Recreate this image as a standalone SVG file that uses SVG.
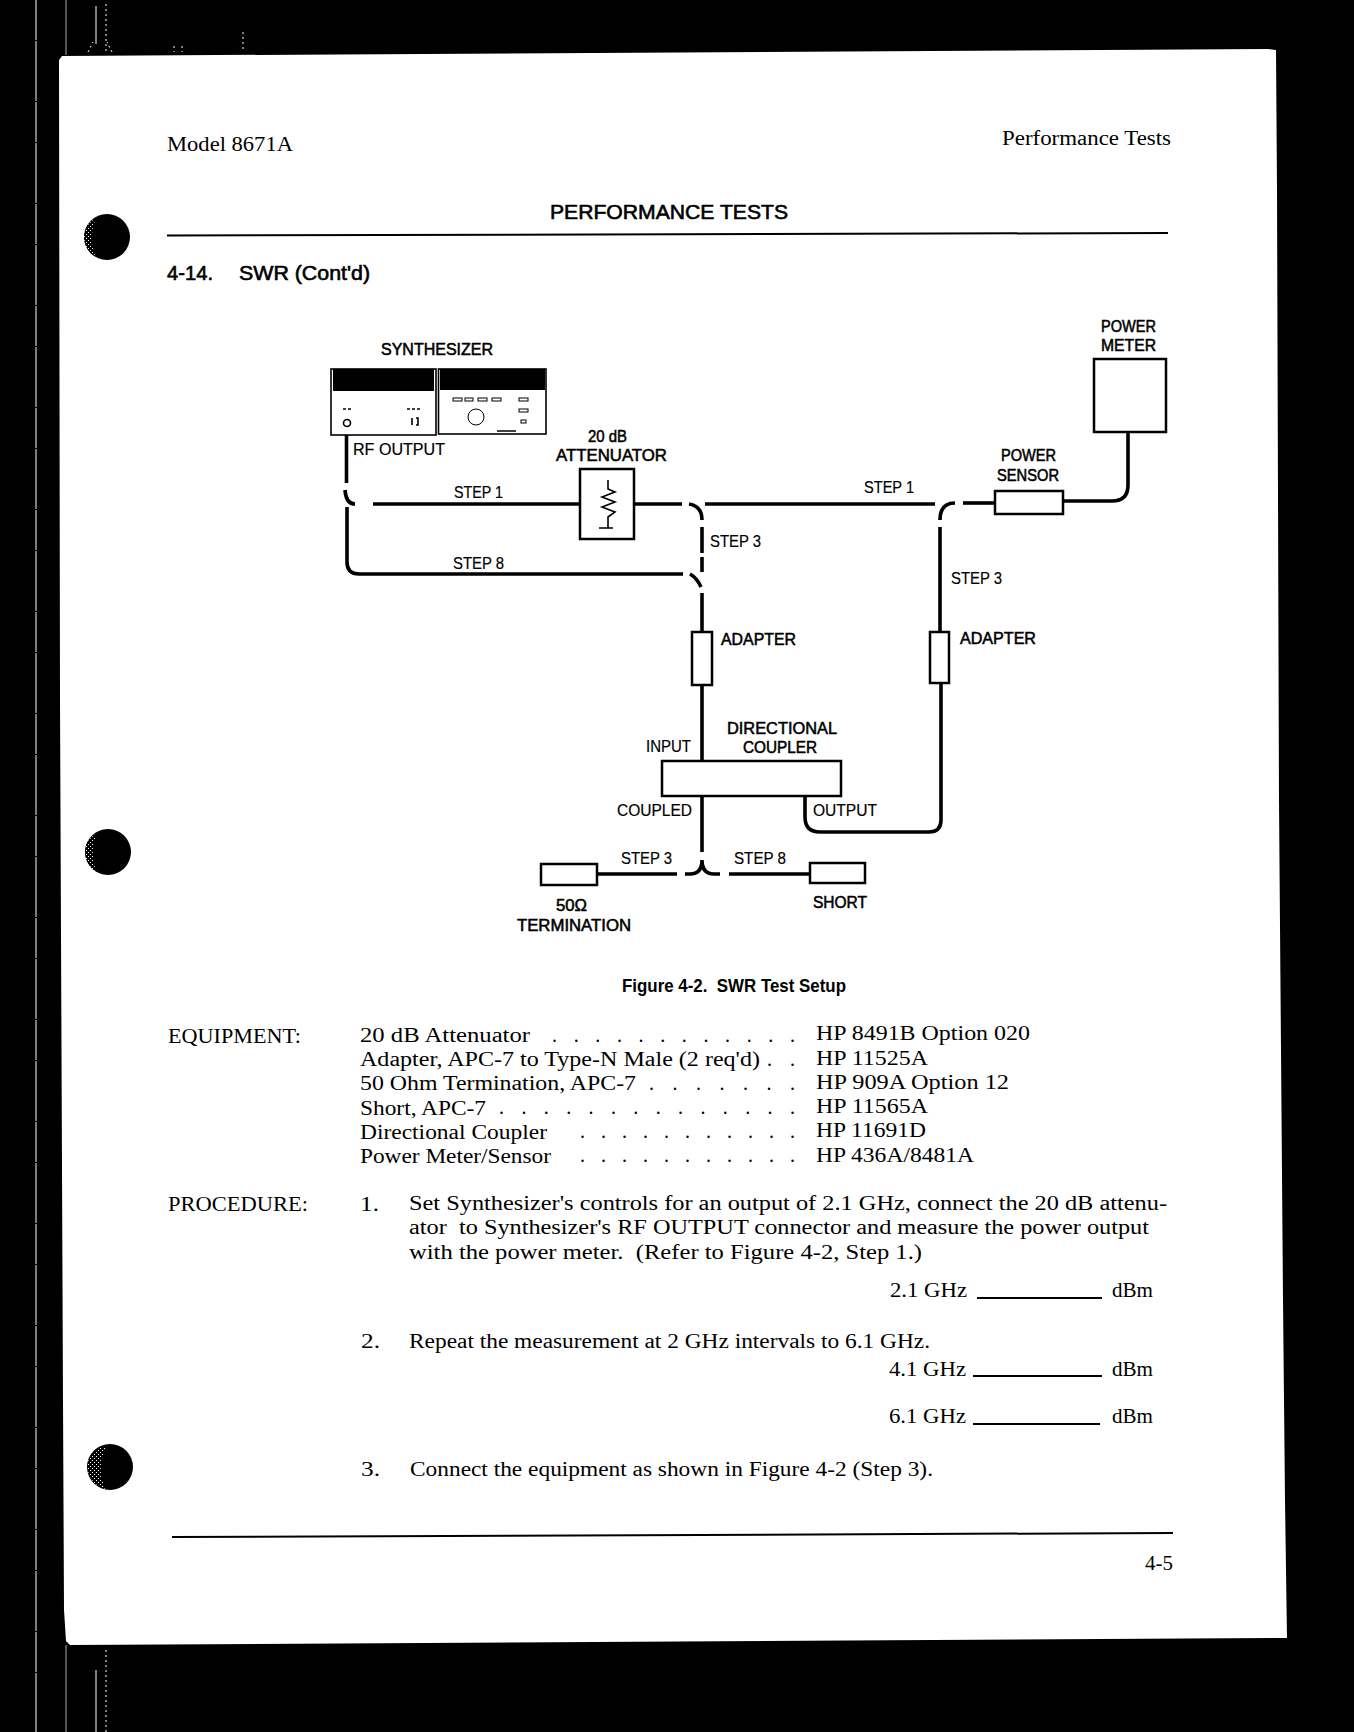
<svg xmlns="http://www.w3.org/2000/svg" width="1354" height="1732" viewBox="0 0 1354 1732">
<style>
text{white-space:pre}
.s{font-family:"Liberation Serif","Times New Roman",serif;font-size:20px;fill:#000}
.l{font-family:"Liberation Sans",Arial,sans-serif;font-size:16.5px;fill:#000;stroke:#000;stroke-width:.55}
.n{font-family:"Liberation Sans",Arial,sans-serif;font-size:16.5px;fill:#000;stroke:#000;stroke-width:.2}
.h{font-family:"Liberation Sans",Arial,sans-serif;font-size:20px;fill:#000;stroke:#000;stroke-width:.6}
.cap{font-family:"Liberation Sans",Arial,sans-serif;font-size:19px;font-weight:700;fill:#000}
.box{fill:#fff;stroke:#000;stroke-width:2.5}
.panel{fill:#fff;stroke:#000;stroke-width:1.6}
.c{fill:none;stroke:#000;stroke-width:3.6}
.thin{fill:none;stroke:#000;stroke-width:1.6}
.rule{fill:none;stroke:#000;stroke-width:2}
.art{fill:none;stroke:#fff;stroke-width:1}
.blob{fill:#000}
</style>
<defs>
<pattern id="dither" width="4" height="4" patternUnits="userSpaceOnUse"><rect width="4" height="4" fill="#000"/><rect width="1" height="1" fill="#fff"/><rect x="2" y="2" width="1" height="1" fill="#fff"/></pattern>
</defs>
<rect id="scan-background" width="1354" height="1732" fill="#000"/>
<g id="scan-artefacts">
<path class="art" stroke-dasharray="40 1 60 1" d="M36 0V1732"/>
<path d="M66 0V55M66 1645V1732" fill="none" stroke="#aaa" stroke-width="1"/>
<path class="art" d="M96 6V44M96 1670V1732"/>
<path class="art" stroke-dasharray="2 3" d="M88 52L93 42M112 52L107 42M106 4V52M106 1650V1732M243 32V52M174 46V52M182 46V52"/>
</g>
<path id="page" fill="#fff" d="M62 56L1268 49L1276 50L1277 190L1279 800L1283 1300L1285 1500L1287 1638L70 1645L66 1641L64 1610L63 1400L60 700L59 60Z"/>
<g id="punch-holes">
<g><circle class="blob" cx="107" cy="237" r="23"/><path fill="url(#dither)" d="M84 237A23 23 0 0 0 96 257C91 248 90 232 96 218A23 23 0 0 0 84 237Z"/></g>
<g><circle class="blob" cx="108" cy="852" r="23"/><path fill="url(#dither)" d="M85 852A23 23 0 0 0 97 872C92 863 91 847 97 833A23 23 0 0 0 85 852Z"/></g>
<g><circle class="blob" cx="110" cy="1467" r="23"/><path fill="url(#dither)" d="M88 1462A23 23 0 0 0 106 1489C103 1482 96 1472 106 1446C95 1448 90 1454 88 1462Z"/></g>
</g>
<g id="page-header">
<text class="s" x="167" y="151" textLength="126" lengthAdjust="spacingAndGlyphs">Model 8671A</text>
<text class="s" x="1002" y="145" textLength="169" lengthAdjust="spacingAndGlyphs">Performance Tests</text>
<text class="h" x="550" y="219" textLength="238" lengthAdjust="spacingAndGlyphs">PERFORMANCE TESTS</text>
<path class="rule" stroke-width="2.5" d="M167 235.500L1168 233"/>
<text class="h" x="167" y="280" textLength="46" lengthAdjust="spacingAndGlyphs">4-14.</text>
<text class="h" x="239" y="280" textLength="131" lengthAdjust="spacingAndGlyphs">SWR (Cont'd)</text>
</g>
<g id="connectors">
<path class="c" d="M346.500 426V483"/>
<path class="c" d="M345 490Q346 504 355 504"/>
<path class="c" d="M373 504H579"/>
<path class="c" d="M635 504H682"/>
<path class="c" d="M689 504Q702 506 702 520"/>
<path class="c" d="M702 527V553M702 557V572"/>
<path class="c" d="M347 507V562Q347 574 359 574H683"/>
<path class="c" d="M690 574Q697 578 701 587"/>
<path class="c" d="M702 593V632"/>
<path class="c" d="M705 504H935"/>
<path class="c" d="M940 520Q940 503 955 503"/>
<path class="c" d="M963 503H995"/>
<path class="c" d="M1063 501H1112Q1128 501 1128 485V432"/>
<path class="c" d="M940 527V632"/>
<path class="c" d="M702 685V761"/>
<path class="c" d="M941 683V820Q941 832 929 832H820Q805 832 805 817V796"/>
<path class="c" d="M702 796V852"/>
<path class="c" d="M702 860Q702 874 690 874H685M702 860Q702 874 714 874H720"/>
<path class="c" d="M597 874H677"/>
<path class="c" d="M729 874H810"/>
</g>
<g id="synthesizer">
<text class="l" x="381" y="355" textLength="112" lengthAdjust="spacingAndGlyphs">SYNTHESIZER</text>
<rect class="panel" x="331" y="369" width="105" height="66"/>
<rect class="panel" x="438.500" y="369" width="107.500" height="65"/>
<rect x="333" y="369" width="101" height="22" fill="#000"/>
<rect x="440" y="369" width="105" height="21" fill="#000"/>
<circle class="thin" cx="347" cy="423" r="3.500"/>
<circle cx="476" cy="417" r="8" fill="none" stroke="#000" stroke-width="1"/>
<path class="thin" stroke-width="1.200" stroke-dasharray="3 2" d="M343 409H352M407 409H420"/>
<path class="thin" stroke-width="1" d="M412 418V425M416 418H418V425H416"/>
<g fill="none" stroke="#000" stroke-width="1"><rect x="453" y="398" width="9" height="3"/><rect x="465" y="398" width="8" height="3"/><rect x="478" y="398" width="9" height="3"/><rect x="492" y="398" width="9" height="3"/><rect x="519" y="398" width="9" height="3"/><rect x="519" y="409" width="9" height="3"/><rect x="521" y="420" width="5" height="3"/></g>
<path d="M497 431H516" stroke="#000" stroke-width="1.500"/>
<text class="n" x="353" y="455" textLength="92" lengthAdjust="spacingAndGlyphs">RF OUTPUT</text>
</g>
<g id="attenuator">
<text class="l" x="588" y="442" textLength="39" lengthAdjust="spacingAndGlyphs">20 dB</text>
<text class="l" x="556" y="461" textLength="111" lengthAdjust="spacingAndGlyphs">ATTENUATOR</text>
<rect class="box" x="580" y="469" width="54" height="70"/>
<path class="thin" stroke-width="2" d="M608 480V489L615 492L602 497L615 502L602 507L615 512L608 517V528M599 528H613"/>
</g>
<g id="power-meter">
<text class="l" x="1101" y="332" textLength="55" lengthAdjust="spacingAndGlyphs">POWER</text>
<text class="l" x="1101" y="351" textLength="55" lengthAdjust="spacingAndGlyphs">METER</text>
<rect class="box" x="1094" y="359" width="72" height="73"/>
</g>
<g id="power-sensor">
<text class="l" x="1001" y="461" textLength="55" lengthAdjust="spacingAndGlyphs">POWER</text>
<text class="l" x="997" y="481" textLength="62" lengthAdjust="spacingAndGlyphs">SENSOR</text>
<rect class="box" x="995" y="491" width="68" height="23"/>
</g>
<g id="adapter-left">
<rect class="box" x="692" y="632" width="20" height="53"/>
<text class="l" x="721" y="645" textLength="75" lengthAdjust="spacingAndGlyphs">ADAPTER</text>
</g>
<g id="adapter-right">
<rect class="box" stroke-width="2" x="930" y="632" width="19" height="51"/>
<text class="l" x="960" y="644" textLength="76" lengthAdjust="spacingAndGlyphs">ADAPTER</text>
</g>
<g id="directional-coupler">
<text class="l" x="727" y="734" textLength="110" lengthAdjust="spacingAndGlyphs">DIRECTIONAL</text>
<text class="l" x="743" y="753" textLength="74" lengthAdjust="spacingAndGlyphs">COUPLER</text>
<rect class="box" x="662" y="761" width="179" height="35"/>
<text class="n" x="646" y="752" textLength="45" lengthAdjust="spacingAndGlyphs">INPUT</text>
<text class="n" x="617" y="816" textLength="75" lengthAdjust="spacingAndGlyphs">COUPLED</text>
<text class="n" x="813" y="816" textLength="64" lengthAdjust="spacingAndGlyphs">OUTPUT</text>
</g>
<g id="termination">
<rect class="box" x="541" y="864" width="56" height="21"/>
<text class="l" x="556" y="911" textLength="31" lengthAdjust="spacingAndGlyphs">50Ω</text>
<text class="l" x="517" y="931" textLength="114" lengthAdjust="spacingAndGlyphs">TERMINATION</text>
</g>
<g id="short">
<rect class="box" x="810" y="863" width="55" height="20"/>
<text class="l" x="813" y="908" textLength="54" lengthAdjust="spacingAndGlyphs">SHORT</text>
</g>
<g id="connector-labels">
<text class="n" x="454" y="498" textLength="49" lengthAdjust="spacingAndGlyphs">STEP 1</text>
<text class="n" x="453" y="569" textLength="51" lengthAdjust="spacingAndGlyphs">STEP 8</text>
<text class="n" x="710" y="547" textLength="51" lengthAdjust="spacingAndGlyphs">STEP 3</text>
<text class="n" x="864" y="493" textLength="50" lengthAdjust="spacingAndGlyphs">STEP 1</text>
<text class="n" x="951" y="584" textLength="51" lengthAdjust="spacingAndGlyphs">STEP 3</text>
<text class="n" x="621" y="864" textLength="51" lengthAdjust="spacingAndGlyphs">STEP 3</text>
<text class="n" x="734" y="864" textLength="52" lengthAdjust="spacingAndGlyphs">STEP 8</text>
</g>
<text id="caption" class="cap" x="622" y="992" textLength="224" lengthAdjust="spacingAndGlyphs">Figure 4-2.  SWR Test Setup</text>
<g id="equipment">
<text class="s" x="168" y="1043" textLength="133" lengthAdjust="spacingAndGlyphs">EQUIPMENT:</text>
<text class="s" x="360" y="1042" textLength="170" lengthAdjust="spacingAndGlyphs">20 dB Attenuator</text>
<text class="s" x="552" y="1042" textLength="243" lengthAdjust="spacing">. . . . . . . . . . . .</text>
<text class="s" x="816" y="1040" textLength="214" lengthAdjust="spacingAndGlyphs">HP 8491B Option 020</text>
<text class="s" x="360" y="1066" textLength="400" lengthAdjust="spacingAndGlyphs">Adapter, APC-7 to Type-N Male (2 req'd)</text>
<text class="s" x="767" y="1066" textLength="28" lengthAdjust="spacing">. .</text>
<text class="s" x="816" y="1065" textLength="112" lengthAdjust="spacingAndGlyphs">HP 11525A</text>
<text class="s" x="360" y="1090" textLength="276" lengthAdjust="spacingAndGlyphs">50 Ohm Termination, APC-7</text>
<text class="s" x="649" y="1090" textLength="146" lengthAdjust="spacing">. . . . . . .</text>
<text class="s" x="816" y="1089" textLength="193" lengthAdjust="spacingAndGlyphs">HP 909A Option 12</text>
<text class="s" x="360" y="1115" textLength="126" lengthAdjust="spacingAndGlyphs">Short, APC-7</text>
<text class="s" x="499" y="1114" textLength="296" lengthAdjust="spacing">. . . . . . . . . . . . . .</text>
<text class="s" x="816" y="1113" textLength="112" lengthAdjust="spacingAndGlyphs">HP 11565A</text>
<text class="s" x="360" y="1139" textLength="187" lengthAdjust="spacingAndGlyphs">Directional Coupler</text>
<text class="s" x="580" y="1138" textLength="215" lengthAdjust="spacing">. . . . . . . . . . .</text>
<text class="s" x="816" y="1137" textLength="110" lengthAdjust="spacingAndGlyphs">HP 11691D</text>
<text class="s" x="360" y="1163" textLength="191" lengthAdjust="spacingAndGlyphs">Power Meter/Sensor</text>
<text class="s" x="580" y="1162" textLength="215" lengthAdjust="spacing">. . . . . . . . . . .</text>
<text class="s" x="816" y="1162" textLength="158" lengthAdjust="spacingAndGlyphs">HP 436A/8481A</text>
</g>
<g id="procedure">
<text class="s" x="168" y="1211" textLength="140" lengthAdjust="spacingAndGlyphs">PROCEDURE:</text>
<text class="s" x="360" y="1211" textLength="19" lengthAdjust="spacingAndGlyphs">1.</text>
<text class="s" x="409" y="1210" textLength="758" lengthAdjust="spacingAndGlyphs">Set Synthesizer's controls for an output of 2.1 GHz, connect the 20 dB attenu-</text>
<text class="s" x="409" y="1234" textLength="740" lengthAdjust="spacingAndGlyphs">ator  to Synthesizer's RF OUTPUT connector and measure the power output</text>
<text class="s" x="409" y="1259" textLength="513" lengthAdjust="spacingAndGlyphs">with the power meter.  (Refer to Figure 4-2, Step 1.)</text>
<text class="s" x="890" y="1297" textLength="77" lengthAdjust="spacingAndGlyphs">2.1 GHz</text>
<path class="rule" d="M977 1298H1102"/>
<text class="s" x="1112" y="1297" textLength="41" lengthAdjust="spacingAndGlyphs">dBm</text>
<text class="s" x="361" y="1348" textLength="19" lengthAdjust="spacingAndGlyphs">2.</text>
<text class="s" x="409" y="1348" textLength="521" lengthAdjust="spacingAndGlyphs">Repeat the measurement at 2 GHz intervals to 6.1 GHz.</text>
<text class="s" x="889" y="1376" textLength="77" lengthAdjust="spacingAndGlyphs">4.1 GHz</text>
<path class="rule" d="M973 1376H1102"/>
<text class="s" x="1112" y="1376" textLength="41" lengthAdjust="spacingAndGlyphs">dBm</text>
<text class="s" x="889" y="1423" textLength="77" lengthAdjust="spacingAndGlyphs">6.1 GHz</text>
<path class="rule" d="M973 1424H1100"/>
<text class="s" x="1112" y="1423" textLength="41" lengthAdjust="spacingAndGlyphs">dBm</text>
<text class="s" x="361" y="1476" textLength="19" lengthAdjust="spacingAndGlyphs">3.</text>
<text class="s" x="410" y="1476" textLength="523" lengthAdjust="spacingAndGlyphs">Connect the equipment as shown in Figure 4-2 (Step 3).</text>
</g>
<g id="page-footer">
<path class="rule" stroke-width="2.500" d="M172 1537L1173 1533"/>
<text class="s" x="1145" y="1570" textLength="28" lengthAdjust="spacingAndGlyphs">4-5</text>
</g>
</svg>
